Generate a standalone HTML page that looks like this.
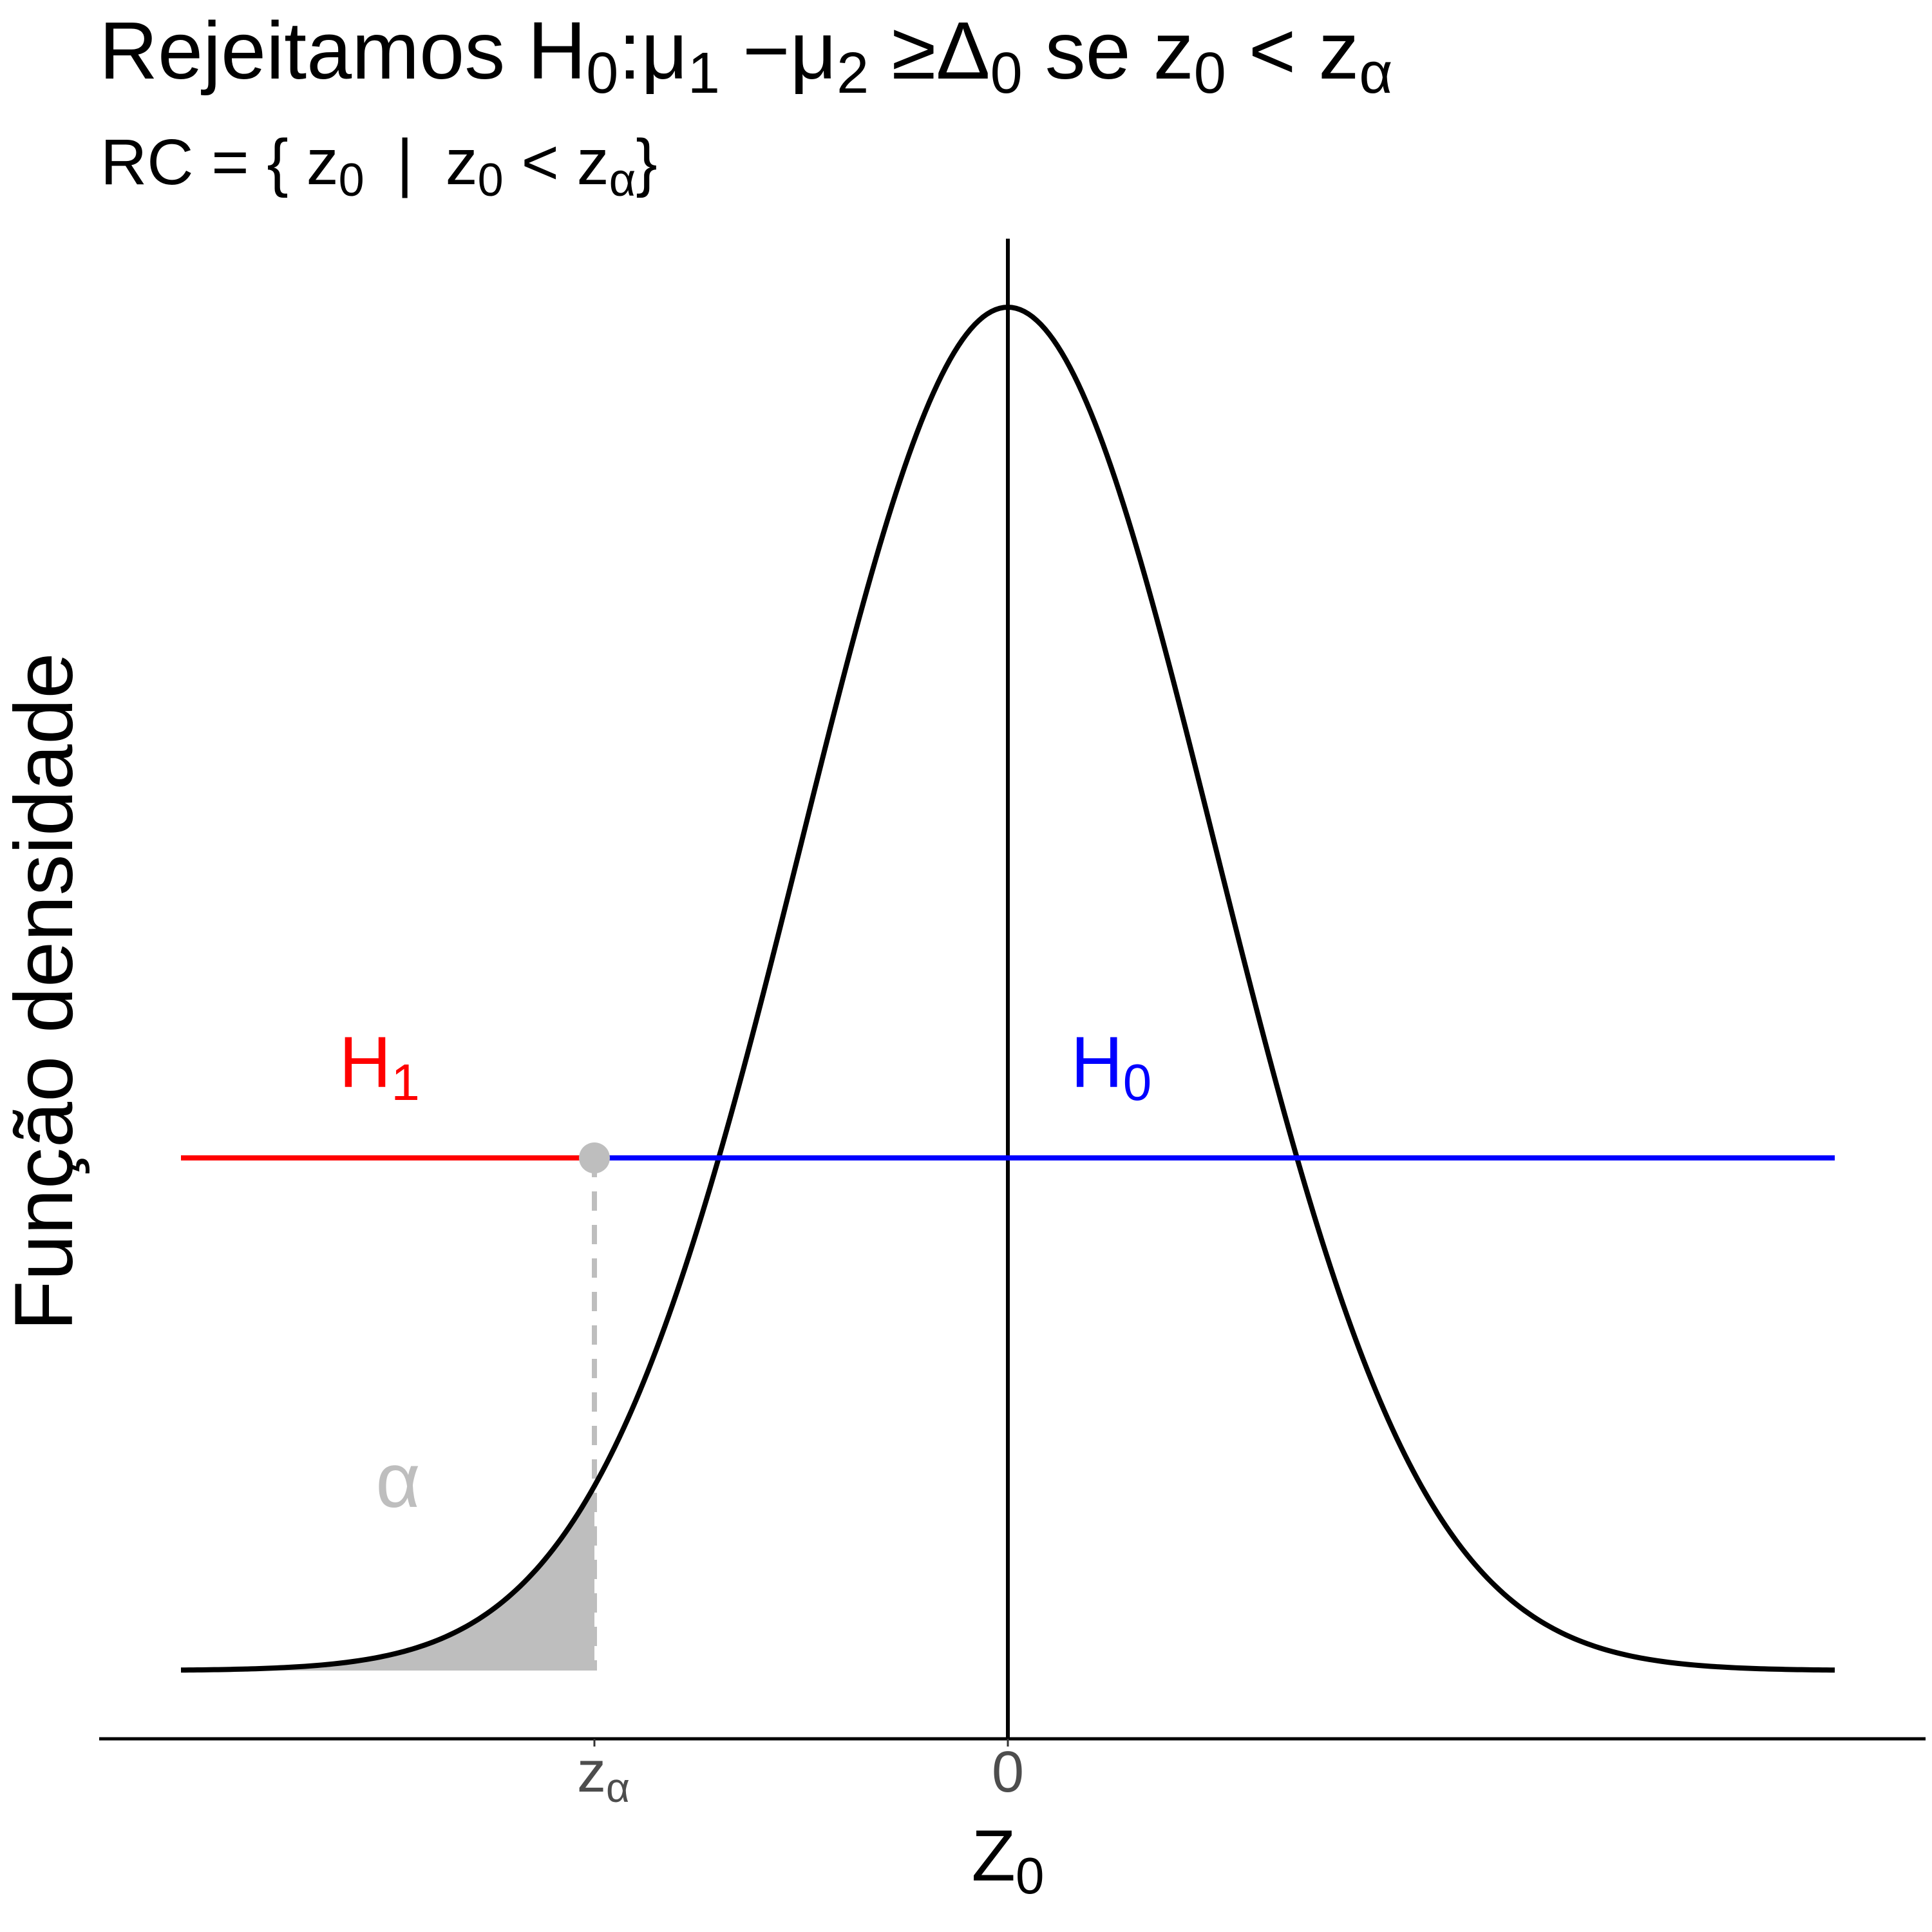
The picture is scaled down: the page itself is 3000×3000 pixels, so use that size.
<!DOCTYPE html>
<html><head><meta charset="utf-8"><style>
html,body{margin:0;padding:0;background:#fff}
svg{display:block}
text{font-family:"Liberation Sans","DejaVu Sans",sans-serif}
</style></head><body>
<svg id="chart" width="3000" height="3000" viewBox="0 0 3000 3000" xmlns="http://www.w3.org/2000/svg">
<rect width="3000" height="3000" fill="#fff"/>
<text x="154" y="122" font-size="126" fill="#000">Rejeitamos H<tspan font-size="90" dy="22">0</tspan><tspan dy="-22">:μ</tspan><tspan font-size="90" dy="22">1</tspan><tspan dy="-22"> −μ</tspan><tspan font-size="90" dy="22">2</tspan><tspan dy="-22"> ≥Δ</tspan><tspan font-size="90" dy="22">0</tspan><tspan dy="-22"> se z</tspan><tspan font-size="90" dy="22">0</tspan><tspan dy="-22"> &lt; z</tspan><tspan font-size="90" dy="22">α</tspan></text>
<text x="156" y="286" font-size="100" fill="#000">RC = { z<tspan font-size="72" dy="18">0</tspan><tspan dy="-18" dx="50">|</tspan><tspan dx="50">z</tspan><tspan font-size="72" dy="18">0</tspan><tspan dy="-18"> &lt; z</tspan><tspan font-size="72" dy="18">α</tspan><tspan dy="-18">}</tspan></text>
<g id="plot"></g>
<text transform="translate(112,1540) rotate(-90)" text-anchor="middle" font-size="128" fill="#000">Função densidade</text>
<text x="1565" y="2920" text-anchor="middle" font-size="112" fill="#000">Z<tspan font-size="80" dy="20">0</tspan></text>
</svg>
<script>
const xDomain = [-4, 4];
const zAlpha = [-2];
const hLineLevel = [0.15];
const vLineTop = [0.419];
const tickValues = [-2, 0];
const tickLabels = ['z', '0'];
const labels = ['H1', 'H0', 'alpha'];

const NS = 'http://www.w3.org/2000/svg';
const plot = document.getElementById('plot');
const X0 = 281, X1 = 2849, Y0 = 2594, YPEAK = 477, AXY = 2700;
const dens = z => Math.exp(-z*z/2)/Math.sqrt(2*Math.PI);
const sx = v => X0 + (v - xDomain[0])/(xDomain[1]-xDomain[0])*(X1-X0);
const sy = d => Y0 - d/dens(0)*(Y0-YPEAK);
function mk(tag, attrs){const e=document.createElementNS(NS,tag);for(const k in attrs)e.setAttribute(k,attrs[k]);plot.appendChild(e);return e;}

let pa = `M${sx(xDomain[0])},${sy(0)}`;
for(let i=0;i<=200;i++){const z=xDomain[0]+(zAlpha[0]-xDomain[0])*i/200;pa+=` L${sx(z)},${sy(dens(z))}`;}
pa += ` L${sx(zAlpha[0])},${sy(0)} Z`;
const area = mk('path',{d:pa,fill:'#bebebe'});



const dl = mk('line',{x1:sx(zAlpha[0]),x2:sx(zAlpha[0]),y1:sy(hLineLevel[0]),y2:sy(0),stroke:'#bebebe','stroke-width':8,'stroke-dasharray':'30 22'});



let pc='';
for(let i=0;i<=400;i++){const z=xDomain[0]+(xDomain[1]-xDomain[0])*i/400;pc+=(i?' L':'M')+sx(z)+','+sy(dens(z));}
const curve = mk('path',{d:pc,fill:'none',stroke:'#000','stroke-width':8});



const vl = mk('line',{x1:sx(0),x2:sx(0),y1:sy(vLineTop[0]),y2:AXY,stroke:'#000','stroke-width':6});



const hy = sy(hLineLevel[0]);
const red = mk('line',{x1:sx(xDomain[0]),x2:sx(zAlpha[0]),y1:hy,y2:hy,stroke:'#ff0000','stroke-width':8});


const blue = mk('line',{x1:sx(zAlpha[0]),x2:sx(xDomain[1]),y1:hy,y2:hy,stroke:'#0000ff','stroke-width':8});


const pt = mk('circle',{cx:sx(zAlpha[0]),cy:hy,r:24,fill:'#bebebe'});



const h1 = mk('text',{x:sx(-3.04),y:hy-110,'text-anchor':'middle','font-size':112,fill:'#ff0000'});


h1.innerHTML='H<tspan font-size="80" dy="20">1</tspan>';
const h0 = mk('text',{x:sx(0.5),y:hy-110,'text-anchor':'middle','font-size':112,fill:'#0000ff'});


h0.innerHTML='H<tspan font-size="80" dy="20">0</tspan>';
const al = mk('text',{x:sx(-2.95),y:2340,'text-anchor':'middle','font-size':120,fill:'#bebebe','font-family':'Liberation Serif, serif'});


al.textContent='α';

const ax = mk('line',{x1:154,x2:2990,y1:AXY,y2:AXY,stroke:'#000','stroke-width':5});


tickValues.forEach((v,i)=>{
  const t = mk('line',{x1:sx(v),x2:sx(v),y1:AXY,y2:AXY+12,stroke:'#333','stroke-width':3});
  
  
  const lb = mk('text',{x:sx(v),y:2782,'text-anchor':'middle','font-size':90,fill:'#4d4d4d'});
  
  
  if(i===0){lb.innerHTML=tickLabels[i]+'<tspan font-size="64" dy="16">α</tspan>';lb.setAttribute('x',sx(v)+14);}
  else lb.textContent=tickLabels[i];
});
</script>
</body></html>
